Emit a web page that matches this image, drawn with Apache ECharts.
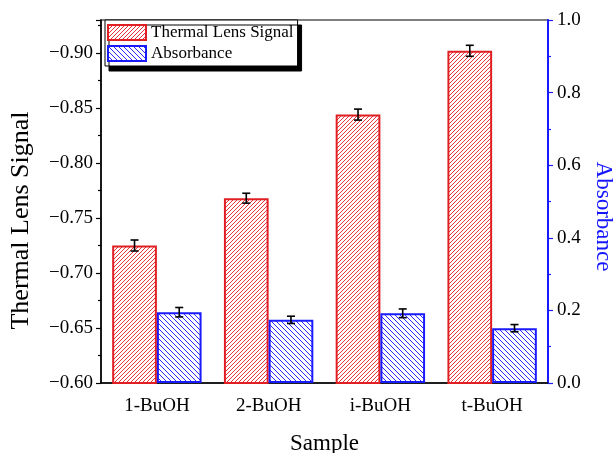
<!DOCTYPE html>
<html>
<head>
<meta charset="utf-8">
<script src="https://cdn.jsdelivr.net/npm/echarts@6/dist/echarts.min.js"></script>
<style>
html,body{margin:0;padding:0;background:#fff;}
#chart{width:616px;height:453px;}
</style>
</head>
<body>
<div id="chart"></div>
<script>
// ---- data ----
var categories = ['1-BuOH', '2-BuOH', 'i-BuOH', 't-BuOH'];
var thermalSignal = [-0.725, -0.768, -0.844, -0.902];
var thermalError = [0.005, 0.0045, 0.005, 0.005];
var absorbance = [0.195, 0.174, 0.192, 0.151];
var absorbanceError = [0.013, 0.010, 0.012, 0.010];
var leftTicks = ['\u22120.60', '\u22120.65', '\u22120.70', '\u22120.75', '\u22120.80', '\u22120.85', '\u22120.90'];
var rightTicks = ['0.0', '0.2', '0.4', '0.6', '0.8', '1.0'];

// pixel-exact diagonal hatch: dir 1 = '/', dir -1 = '\'
function hatchPix(color, dir, p) {
  var S = p * 4;
  var c = document.createElement('canvas');
  c.width = S; c.height = S;
  var ctx = c.getContext('2d');
  ctx.fillStyle = '#ffffff';
  ctx.fillRect(0, 0, S, S);
  ctx.fillStyle = color;
  for (var y = 0; y < S; y++) {
    for (var x = 0; x < S; x++) {
      var k = dir > 0 ? (x + y) : (x - y + S);
      if (k % p === 0) ctx.fillRect(x, y, 1, 1);
    }
  }
  return c;
}
// antialiased hatch
function hatch(color, dir, p) {
  var S = p * 4;
  var c = document.createElement('canvas');
  c.width = S; c.height = S;
  var ctx = c.getContext('2d');
  ctx.fillStyle = '#ffffff';
  ctx.fillRect(0, 0, S, S);
  ctx.strokeStyle = color;
  ctx.lineWidth = 1;
  ctx.beginPath();
  for (var k = -S; k <= 2 * S; k += p) {
    if (dir > 0) { ctx.moveTo(k, S); ctx.lineTo(k + S, 0); }
    else { ctx.moveTo(k, 0); ctx.lineTo(k + S, S); }
  }
  ctx.stroke();
  return c;
}

var serif = 'Liberation Serif';
var chart = echarts.init(document.getElementById('chart'), null, {renderer: 'canvas'});

function errRender(offset) {
  return function (params, api) {
    var idx = api.value(0);
    var v = api.value(1);
    var e = api.value(2);
    var band = api.size([1, 0])[0];
    var c = api.coord([idx, v]);
    var x = c[0] + offset * band;
    var yTop = api.coord([idx, v + e])[1];
    var yBot = api.coord([idx, v - e])[1];
    var hw = 4;
    var st = {stroke: '#000', lineWidth: 1.6, fill: null};
    return {
      type: 'group',
      children: [
        {type: 'line', shape: {x1: x, y1: yTop, x2: x, y2: yBot}, style: st},
        {type: 'line', shape: {x1: x - hw, y1: yTop, x2: x + hw, y2: yTop}, style: st},
        {type: 'line', shape: {x1: x - hw, y1: yBot, x2: x + hw, y2: yBot}, style: st}
      ]
    };
  };
}

var redPattern = hatchPix('#e8333a', 1, 4);
var bluePattern = hatch('#2a2aff', -1, 5);

var option = {
  animation: false,
  backgroundColor: '#fff',
  grid: {left: 101, right: 68, top: 20, bottom: 70, show: true, borderColor: '#000', borderWidth: 1.2, outerBoundsMode: 'none', containLabel: false},
  legend: {
    orient: 'vertical',
    left: 105, top: 20,
    data: [{name: 'Thermal Lens Signal', icon: 'rect'}, {name: 'Absorbance', icon: 'rect'}],
    itemWidth: 38, itemHeight: 15, itemGap: 4,
    padding: [4, 4, 4, 2],
    backgroundColor: '#fff',
    borderColor: '#000', borderWidth: 1,
    shadowColor: '#000', shadowOffsetX: 4, shadowOffsetY: 5, shadowBlur: 0,
    textStyle: {fontFamily: serif, fontSize: 17, color: '#000', lineHeight: 15}
  },
  xAxis: {
    type: 'category',
    data: categories,
    name: 'Sample',
    nameLocation: 'middle',
    nameGap: 49,
    nameTextStyle: {fontFamily: serif, fontSize: 23, color: '#000'},
    axisLine: {lineStyle: {color: '#000', width: 1.5}},
    axisTick: {alignWithLabel: true, length: 6, lineStyle: {color: '#000', width: 1.2}},
    axisLabel: {fontFamily: serif, fontSize: 19, color: '#000', margin: 14}
  },
  yAxis: [
    {
      type: 'value',
      position: 'left',
      min: 0.6, max: 0.93, interval: 0.05,
      name: 'Thermal Lens Signal',
      nameLocation: 'middle',
      nameGap: 67,
      nameTextStyle: {fontFamily: serif, fontSize: 26, color: '#000', padding: [0, 38, 0, 0]},
      axisLine: {show: true, lineStyle: {color: '#000', width: 1.5}},
      axisTick: {show: true, length: 5, lineStyle: {color: '#000', width: 1.2}},
      minorTick: {show: true, splitNumber: 2, length: 3, lineStyle: {color: '#000', width: 1.2}},
      splitLine: {show: false},
      axisLabel: {
        fontFamily: serif, fontSize: 19, color: '#000', margin: 8,
        showMaxLabel: false,
        formatter: function (v) {
          var i = Math.round((v - 0.6) / 0.05);
          if (Math.abs(v - (0.6 + i * 0.05)) > 1e-6 || i < 0 || i >= leftTicks.length) return '';
          return leftTicks[i];
        }
      }
    },
    {
      type: 'value',
      position: 'right',
      min: 0, max: 1, interval: 0.2,
      name: 'Absorbance',
      nameLocation: 'middle',
      nameGap: 35,
      nameRotate: -90,
      nameTextStyle: {fontFamily: serif, fontSize: 23, color: '#1515ff', padding: [0, 0, 0, 30]},
      axisLine: {show: true, lineStyle: {color: '#1a1aff', width: 2}},
      axisTick: {show: true, length: 5, lineStyle: {color: '#1a1aff', width: 1.2}},
      minorTick: {show: true, splitNumber: 2, length: 3, lineStyle: {color: '#1a1aff', width: 1.2}},
      splitLine: {show: false},
      axisLabel: {
        fontFamily: serif, fontSize: 19, color: '#000', margin: 9,
        formatter: function (v) {
          var i = Math.round(v / 0.2);
          return rightTicks[i] || '';
        }
      }
    }
  ],
  series: [
    {
      name: 'Thermal Lens Signal',
      type: 'bar',
      yAxisIndex: 0,
      barWidth: '40%',
      barGap: '0%',
      data: thermalSignal.map(function (v) { return -v; }),
      itemStyle: {
        color: {image: redPattern, repeat: 'repeat'},
        borderColor: '#e01f23', borderWidth: 2
      },
      emphasis: {disabled: true}
    },
    {
      name: 'Absorbance',
      type: 'bar',
      yAxisIndex: 1,
      barWidth: '40%',
      barGap: '0%',
      data: absorbance,
      itemStyle: {
        color: {image: bluePattern, repeat: 'repeat'},
        borderColor: '#1a1aff', borderWidth: 2
      },
      emphasis: {disabled: true}
    },
    {
      type: 'custom',
      yAxisIndex: 0,
      z: 5,
      renderItem: errRender(-0.2),
      data: thermalSignal.map(function (v, i) { return [i, -v, thermalError[i]]; })
    },
    {
      type: 'custom',
      yAxisIndex: 1,
      z: 5,
      renderItem: errRender(0.2),
      data: absorbance.map(function (v, i) { return [i, v, absorbanceError[i]]; })
    }
  ]
};
chart.setOption(option);
</script>
</body>
</html>
